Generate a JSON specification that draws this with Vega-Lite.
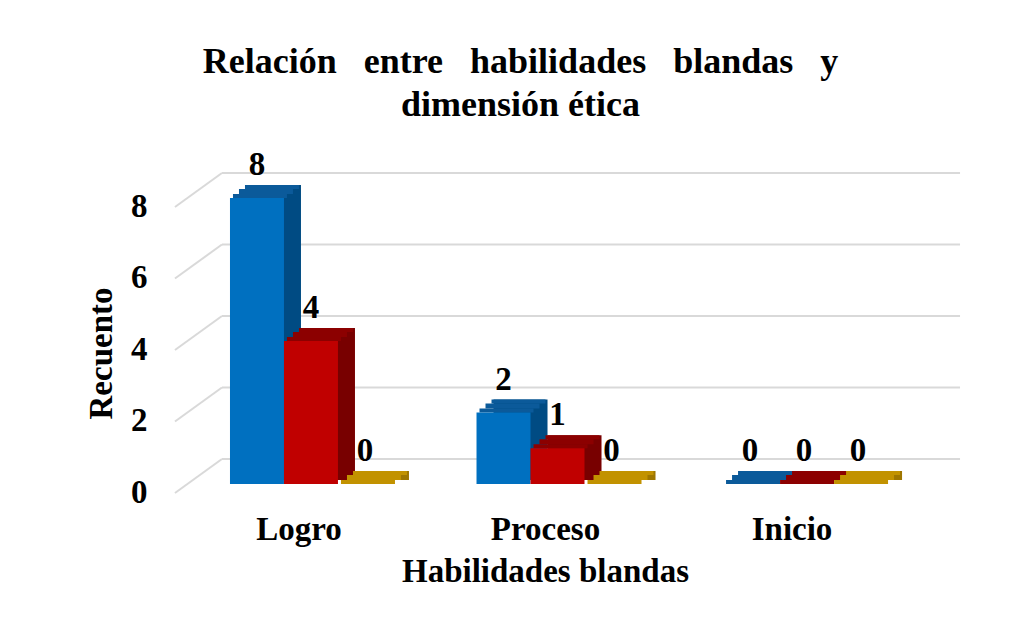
{
  "$schema": "https://vega.github.io/schema/vega-lite/v6.json",
  "width": 765,
  "height": 286,
  "autosize": "none",
  "padding": {"left": 175, "top": 198, "right": 80, "bottom": 135},
  "background": "white",
  "config": {
    "view": {"stroke": null},
    "font": "Liberation Serif",
    "axis": {"labelFont": "Liberation Serif", "titleFont": "Liberation Serif", "grid": false, "ticks": false, "domain": false,
             "labelFontSize": 33, "labelFontWeight": "bold", "labelColor": "#000000",
             "titleFontSize": 33, "titleFontWeight": "bold", "titleColor": "#000000"},
    "axisX": {"labelAngle": 0, "labelPadding": 29, "labelOffset": -12, "titlePadding": 9, "titleX": 370},
    "axisY": {"labelPadding": 28, "labelOffset": 8, "titlePadding": 12, "titleY": 155}
  },
  "title": {
    "text": ["Relación \u00a0\u00a0entre \u00a0\u00a0habilidades \u00a0\u00a0blandas \u00a0\u00a0y", "dimensión ética"],
    "font": "Liberation Serif",
    "fontSize": 36,
    "fontWeight": "bold",
    "color": "#000000",
    "lineHeight": 43,
    "anchor": "middle",
    "frame": "group",
    "dx": -37,
    "offset": 25
  },
  "datasets": {
    "bars": [
      {"Habilidades": "Logro", "Etica": "Logro", "Recuento": 8},
      {"Habilidades": "Logro", "Etica": "Proceso", "Recuento": 4},
      {"Habilidades": "Logro", "Etica": "Inicio", "Recuento": 0},
      {"Habilidades": "Proceso", "Etica": "Logro", "Recuento": 2},
      {"Habilidades": "Proceso", "Etica": "Proceso", "Recuento": 1},
      {"Habilidades": "Proceso", "Etica": "Inicio", "Recuento": 0},
      {"Habilidades": "Inicio", "Etica": "Logro", "Recuento": 0},
      {"Habilidades": "Inicio", "Etica": "Proceso", "Recuento": 0},
      {"Habilidades": "Inicio", "Etica": "Inicio", "Recuento": 0}
    ],
    "grid": [{"Recuento": 0}, {"Recuento": 2}, {"Recuento": 4}, {"Recuento": 6}, {"Recuento": 8}]
  },
  "resolve": {"scale": {"color": "independent", "xOffset": "independent"}},
  "layer": [
    {
      "data": {"name": "grid"},
      "mark": {"type": "rule", "color": "#D9D9D9", "strokeWidth": 2, "yOffset": -25, "y2Offset": -25, "xOffset": -89, "x2Offset": 156},
      "encoding": {
        "x": {"datum": "Logro"},
        "x2": {"datum": "Inicio"},
        "y": {"field": "Recuento", "type": "quantitative", "scale": {"domain": [0, 8], "nice": false}},
        "y2": {"field": "Recuento"}
      }
    },
    {
      "data": {"name": "grid"},
      "mark": {"type": "rule", "color": "#D9D9D9", "strokeWidth": 2, "yOffset": 9, "y2Offset": -25, "xOffset": -136, "x2Offset": -89},
      "encoding": {
        "x": {"datum": "Logro"},
        "x2": {"datum": "Logro"},
        "y": {"field": "Recuento", "type": "quantitative"},
        "y2": {"field": "Recuento"}
      }
    },
    {
      "data": {"name": "bars"},
      "mark": {"type": "bar", "yOffset": -13, "y2Offset": -4},
      "encoding": {
        "x": {"field": "Habilidades", "type": "nominal", "sort": ["Logro", "Proceso", "Inicio"],
              "scale": {"paddingInner": 0.343, "paddingOuter": 0.223}},
        "xOffset": {"field": "Etica", "type": "nominal", "sort": ["Logro", "Proceso", "Inicio"], "scale": {"range": [17, 179]}},
        "y": {"field": "Recuento", "type": "quantitative"},
        "y2": {"datum": 0},
        "color": {"field": "Etica", "type": "nominal", "legend": null,
                  "scale": {"domain": ["Logro", "Proceso", "Inicio"], "range": ["#004B83", "#780000", "#9E7600"]}}
      }
    },
    {
      "data": {"name": "bars"},
      "mark": {"type": "bar", "yOffset": -13, "y2Offset": -9},
      "encoding": {
        "x": {"field": "Habilidades", "type": "nominal", "sort": ["Logro", "Proceso", "Inicio"]},
        "xOffset": {"field": "Etica", "type": "nominal", "sort": ["Logro", "Proceso", "Inicio"], "scale": {"range": [15, 177]}},
        "y": {"field": "Recuento", "type": "quantitative"},
        "y2": {"field": "Recuento"},
        "color": {"field": "Etica", "type": "nominal", "legend": null,
                  "scale": {"domain": ["Logro", "Proceso", "Inicio"], "range": ["#0B5A9A", "#8C0000", "#C29200"]}}
      }
    },
    {
      "data": {"name": "bars"},
      "mark": {"type": "bar", "yOffset": -9, "y2Offset": -4},
      "encoding": {
        "x": {"field": "Habilidades", "type": "nominal", "sort": ["Logro", "Proceso", "Inicio"]},
        "xOffset": {"field": "Etica", "type": "nominal", "sort": ["Logro", "Proceso", "Inicio"], "scale": {"range": [9, 171]}},
        "y": {"field": "Recuento", "type": "quantitative"},
        "y2": {"field": "Recuento"},
        "color": {"field": "Etica", "type": "nominal", "legend": null,
                  "scale": {"domain": ["Logro", "Proceso", "Inicio"], "range": ["#0B5A9A", "#8C0000", "#C29200"]}}
      }
    },
    {
      "data": {"name": "bars"},
      "mark": {"type": "bar", "yOffset": -4, "y2Offset": 0},
      "encoding": {
        "x": {"field": "Habilidades", "type": "nominal", "sort": ["Logro", "Proceso", "Inicio"]},
        "xOffset": {"field": "Etica", "type": "nominal", "sort": ["Logro", "Proceso", "Inicio"], "scale": {"range": [3, 165]}},
        "y": {"field": "Recuento", "type": "quantitative"},
        "y2": {"field": "Recuento"},
        "color": {"field": "Etica", "type": "nominal", "legend": null,
                  "scale": {"domain": ["Logro", "Proceso", "Inicio"], "range": ["#0B5A9A", "#8C0000", "#C29200"]}}
      }
    },
    {
      "data": {"name": "bars"},
      "mark": {"type": "bar"},
      "encoding": {
        "x": {"field": "Habilidades", "type": "nominal", "sort": ["Logro", "Proceso", "Inicio"], "title": "Habilidades blandas"},
        "xOffset": {"field": "Etica", "type": "nominal", "sort": ["Logro", "Proceso", "Inicio"]},
        "y": {"field": "Recuento", "type": "quantitative", "title": "Recuento", "axis": {"values": [0, 2, 4, 6, 8]}},
        "y2": {"datum": 0},
        "color": {"field": "Etica", "type": "nominal", "legend": null,
                  "scale": {"domain": ["Logro", "Proceso", "Inicio"], "range": ["#0070C0", "#C00000", "#C59300"]}}
      }
    },
    {
      "data": {"name": "bars"},
      "mark": {"type": "text", "font": "Liberation Serif", "fontSize": 33, "fontWeight": "bold", "color": "#000000", "baseline": "middle", "dy": -33},
      "encoding": {
        "x": {"field": "Habilidades", "type": "nominal", "sort": ["Logro", "Proceso", "Inicio"]},
        "xOffset": {"field": "Etica", "type": "nominal", "sort": ["Logro", "Proceso", "Inicio"]},
        "y": {"field": "Recuento", "type": "quantitative"},
        "text": {"field": "Recuento", "type": "quantitative"}
      }
    }
  ]
}
